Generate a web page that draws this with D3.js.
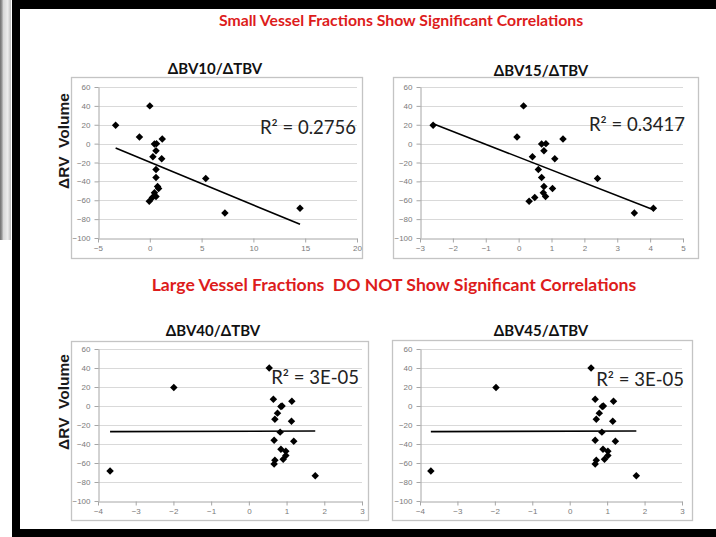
<!DOCTYPE html>
<html>
<head>
<meta charset="utf-8">
<script src="https://cdn.jsdelivr.net/npm/d3@7"></script>
<style>
  html, body { margin: 0; padding: 0; background: #fff; overflow: hidden; width: 716px; height: 537px; }
  svg { display: block; position: absolute; left: 0; top: 0; }
  .tick text { font-family: "Liberation Sans", Arial, sans-serif; }
</style>
</head>
<body>
<svg id="chart" width="716" height="537"></svg>
<script>
// ---- data ----------------------------------------------------------------
const panelTitles = ["ΔBV10/ΔTBV", "ΔBV15/ΔTBV", "ΔBV40/ΔTBV", "ΔBV45/ΔTBV"];
const sectionTitles = [
  "Small Vessel Fractions Show Significant Correlations",
  "Large Vessel Fractions  DO NOT Show Significant Correlations"
];
const yAxisLabel = "ΔRV  Volume";

// change in RV volume for each subject (shared by all four panels)
const rvVolume = [19.5, 40, 7, 5, 0, -0.5, -7.5, -14, -16, -27.5, -36, -37, -45.5, -47.5, -52, -56, -57, -61, -73.5, -68.5];

// blood-volume fractions for the same subjects
const bv10 = [-3.3, 0, -1.0, 1.2, 0.65, 0.45, 0.6, 0.3, 1.15, 0.6, 0.6, 5.4, 0.75, 0.85, 0.45, 0.6, 0.25, -0.05, 7.25, 14.5];
const bv15 = [-2.6, 0.15, -0.05, 1.35, 0.83, 0.7, 0.77, 0.42, 1.1, 0.6, 0.7, 2.4, 0.77, 1.03, 0.75, 0.82, 0.49, 0.32, 3.52, 4.1];
const bv40 = [-1.99, 0.54, 0.65, 1.14, 0.88, 0.85, 0.76, 0.69, 1.13, 0.83, 0.67, 1.19, 0.85, 0.98, 0.98, 0.91, 0.69, 0.67, 1.76, -3.68];
const bv45 = [-1.97, 0.57, 0.68, 1.17, 0.90, 0.87, 0.79, 0.71, 1.15, 0.86, 0.68, 1.22, 0.89, 1.02, 1.02, 0.93, 0.71, 0.68, 1.78, -3.71];

// linear trend line end points (x0, y0) -> (x1, y1)
const trendX0 = [-3.3, -2.6, -3.68, -3.71];
const trendY0 = [-4.6, 21, -27, -27];
const trendX1 = [14.5, 4.1, 1.76, 1.78];
const trendY1 = [-85.5, -70, -26.3, -26.3];

const r2Labels = ["R² = 0.2756", "R² = 0.3417", "R² = 3E-05", "R² = 3E-05"];

// axis ticks
const yTicks = [-100, -80, -60, -40, -20, 0, 20, 40, 60];
const xTicks10 = [-5, 0, 5, 10, 15, 20];
const xTicks15 = [-3, -2, -1, 0, 1, 2, 3, 4, 5];
const xTicksLarge = [-4, -3, -2, -1, 0, 1, 2, 3];

// ---- layout --------------------------------------------------------------
const panels = [
  { xs: bv10, xt: xTicks10,    box: [71, 77, 362, 258],  px: [98, 357],  py: [87, 238],  title: [215, 74],  r2: [356, 134] },
  { xs: bv15, xt: xTicks15,    box: [393, 77, 698, 258], px: [420, 683], py: [87, 238],  title: [541, 76],  r2: [685, 131] },
  { xs: bv40, xt: xTicksLarge, box: [71, 341, 368, 520], px: [98, 362],  py: [349, 501], title: [213, 336], r2: [359, 384] },
  { xs: bv45, xt: xTicksLarge, box: [392, 340, 692, 520],px: [420, 682], py: [349, 501], title: [541, 336], r2: [684, 386] }
];

const svg = d3.select("#chart");

// ---- frame ---------------------------------------------------------------
const defs = svg.append("defs");
const grad = defs.append("linearGradient").attr("id", "edge").attr("x1", 0).attr("x2", 1).attr("y1", 0).attr("y2", 0);
grad.append("stop").attr("offset", 0).attr("stop-color", "#6e6e6e");
grad.append("stop").attr("offset", 0.18).attr("stop-color", "#9a9a9a");
grad.append("stop").attr("offset", 0.3).attr("stop-color", "#d6d6d6");
grad.append("stop").attr("offset", 0.7).attr("stop-color", "#ececec");
grad.append("stop").attr("offset", 1).attr("stop-color", "#bcbcbc");

svg.append("rect").attr("x", 0).attr("y", 0).attr("width", 716).attr("height", 537).attr("fill", "#fff");
svg.append("rect").attr("x", 0).attr("y", 0).attr("width", 11).attr("height", 240).attr("fill", "url(#edge)");
svg.append("rect").attr("x", 12).attr("y", 0).attr("width", 704).attr("height", 9).attr("fill", "#000");
svg.append("rect").attr("x", 12).attr("y", 0).attr("width", 8).attr("height", 537).attr("fill", "#000");
svg.append("rect").attr("x", 12).attr("y", 529).attr("width", 704).attr("height", 8).attr("fill", "#000");

// ---- section headings ----------------------------------------------------
const headingY = [26, 291];
const headingX = [401, 394];
const headingSize = [15.8, 17.6];
sectionTitles.forEach((t, i) => {
  svg.append("text")
    .attr("x", headingX[i]).attr("y", headingY[i])
    .attr("text-anchor", "middle")
    .attr("font-family", "Lato, 'Open Sans', sans-serif")
    .attr("font-weight", "bold")
    .attr("font-size", headingSize[i])
    .attr("fill", "#dd1c1c")
    .style("white-space", "pre")
    .text(t);
});

// ---- y axis titles -------------------------------------------------------
[141, 402].forEach(cy => {
  svg.append("text")
    .attr("transform", `translate(69,${cy}) rotate(-90)`)
    .attr("text-anchor", "middle")
    .attr("font-family", "'Liberation Sans', Arial, sans-serif")
    .attr("font-weight", "bold")
    .attr("font-size", 15.5)
    .attr("fill", "#1a1a1a")
    .style("white-space", "pre")
    .text(yAxisLabel);
});

// ---- panels --------------------------------------------------------------
const diamond = d3.symbol(d3.symbolSquare, 28);

panels.forEach((p, i) => {
  const g = svg.append("g");
  const [bx0, by0, bx1, by1] = p.box;

  g.append("rect")
    .attr("x", bx0 + 0.5).attr("y", by0 + 0.5)
    .attr("width", bx1 - bx0).attr("height", by1 - by0)
    .attr("fill", "#fff").attr("stroke", "#c4c4c4").attr("stroke-width", 1.3);

  g.append("text")
    .attr("x", p.title[0]).attr("y", p.title[1])
    .attr("text-anchor", "middle")
    .attr("font-family", "Lato, 'Open Sans', sans-serif")
    .attr("font-weight", "bold")
    .attr("font-size", 15)
    .attr("fill", "#111")
    .text(panelTitles[i]);

  const x = d3.scaleLinear().domain(d3.extent(p.xt)).range(p.px);
  const y = d3.scaleLinear().domain([-100, 60]).range([p.py[1], p.py[0]]);

  // horizontal gridlines
  g.append("g").selectAll("line").data(yTicks.filter(v => v !== -100)).join("line")
    .attr("x1", p.px[0]).attr("x2", p.px[1])
    .attr("y1", d => Math.round(y(d)) + 0.5).attr("y2", d => Math.round(y(d)) + 0.5)
    .attr("stroke", "#d9d9d9").attr("stroke-width", 1);

  // y axis
  const ya = g.append("g")
    .attr("transform", `translate(${Math.round(p.px[0]) + 0.5},0)`)
    .call(d3.axisLeft(y).tickValues(yTicks).tickFormat(d3.format("d")).tickSize(4).tickPadding(4).tickSizeOuter(0));
  // x axis along the bottom of the plot
  const xa = g.append("g")
    .attr("transform", `translate(0,${Math.round(p.py[1]) + 0.5})`)
    .call(d3.axisBottom(x).tickValues(p.xt).tickFormat(d3.format("d")).tickSize(4).tickPadding(3).tickSizeOuter(0));

  [ya, xa].forEach(a => {
    a.select(".domain").attr("stroke", "#a6a6a6");
    a.selectAll(".tick line").attr("stroke", "#a6a6a6");
    a.selectAll(".tick text").attr("fill", "#7a7a7a").attr("font-size", 8);
  });

  // trend line
  g.append("line")
    .attr("x1", x(trendX0[i])).attr("y1", y(trendY0[i]))
    .attr("x2", x(trendX1[i])).attr("y2", y(trendY1[i]))
    .attr("stroke", "#000").attr("stroke-width", 1.6);

  // points
  g.append("g").selectAll("path").data(p.xs.map((v, k) => [v, rvVolume[k]])).join("path")
    .attr("d", diamond)
    .attr("transform", d => `translate(${x(d[0])},${y(d[1])}) rotate(45)`)
    .attr("fill", "#000");

  // R² annotation
  g.append("text")
    .attr("x", p.r2[0]).attr("y", p.r2[1])
    .attr("text-anchor", "end")
    .attr("font-family", "Lato, 'Open Sans', sans-serif")
    .attr("font-size", 18.5)
    .attr("fill", "#222")
    .text(r2Labels[i]);
});
</script>
</body>
</html>
